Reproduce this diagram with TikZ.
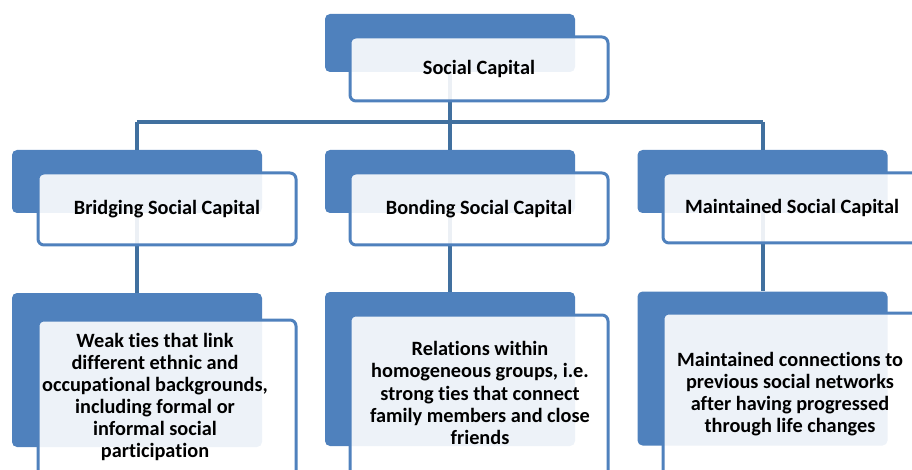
\documentclass[tikz,border=0pt]{standalone}
\usepackage{fontspec}
\setmainfont{Carlito}[Ligatures=NoCommon]
\definecolor{ofblue}{HTML}{4F81BD}
\definecolor{connblue}{HTML}{41709F}
\begin{document}
\begin{tikzpicture}[x=1pt,y=-1pt,
  back/.style={fill=ofblue, draw=none, rounded corners=5pt, inner sep=0pt},
  front/.style={fill=white, fill opacity=0.9, draw=ofblue, line width=3pt,
    rounded corners=6pt, inner sep=0pt},
  conn/.style={draw=connblue, line width=4pt},
  lbl/.style={font=\bfseries\fontsize{20.3}{22.1}\selectfont, align=center, inner sep=0pt}]
\useasboundingbox (0,0) rectangle (912,470);
\clip (0,0) rectangle (912,470);
% back rectangles
\node[back, minimum width=250pt, minimum height=58pt] (tb) at (450,43) {};
\node[back, minimum width=250pt, minimum height=63pt] (b1) at (137,181.5) {};
\node[back, minimum width=250pt, minimum height=63pt] (b2) at (450,181.5) {};
\node[back, minimum width=250pt, minimum height=63pt] (b3) at (762.5,181.5) {};
\node[back, minimum width=250pt, minimum height=154pt] (c1) at (137,370) {};
\node[back, minimum width=250pt, minimum height=154pt] (c2) at (450,369) {};
\node[back, minimum width=250pt, minimum height=154pt] (c3) at (762.5,368.5) {};
% connectors
\coordinate (j) at (452,122);
\draw[conn] (tb.south) -- (tb.south |- j);
\draw[conn] (j -| b1.north) -- (j -| b3.north);
\draw[conn] (j -| b1.north) -- (b1.north);
\draw[conn] (j -| b2.north) -- (b2.north);
\draw[conn] (j -| b3.north) -- (b3.north);
\draw[conn] (b1.south) -- (c1.north);
\draw[conn] (b2.south) -- (c2.north);
\draw[conn] (b3.south) -- (c3.north);
% front rectangles
\node[front, minimum width=258pt, minimum height=64pt] (tf) at (479,69) {};
\node[front, minimum width=258pt, minimum height=72pt] (f1) at (167,209) {};
\node[front, minimum width=258pt, minimum height=72pt] (f2) at (479,209) {};
\node[front, minimum width=258pt, minimum height=70pt] (f3) at (792,208) {};
\node[front, minimum width=258pt, minimum height=176pt] (g1) at (167,408) {};
\node[front, minimum width=258pt, minimum height=176pt] (g2) at (479,403) {};
\node[front, minimum width=258pt, minimum height=176pt] (g3) at (792,401) {};
% texts
\node[lbl] (tt) at (479,69) {Social Capital};
\node[lbl] (t1) at (f1) {Bridging Social Capital};
\node[lbl] (t2) at (f2) {Bonding Social Capital};
\node[lbl] (t3) at (f3) {Maintained Social Capital};
\node[lbl] (u1) at (155,397) {Weak ties that link\\different ethnic and\\occupational backgrounds,\\including formal or\\informal social\\participation};
\node[lbl] (u2) at (480,393) {Relations within\\homogeneous groups, i.e.\\strong ties that connect\\family members and close\\friends};
\node[lbl] (u3) at (790,394) {Maintained connections to\\previous social networks\\after having progressed\\through life changes};
\end{tikzpicture}
\end{document}
